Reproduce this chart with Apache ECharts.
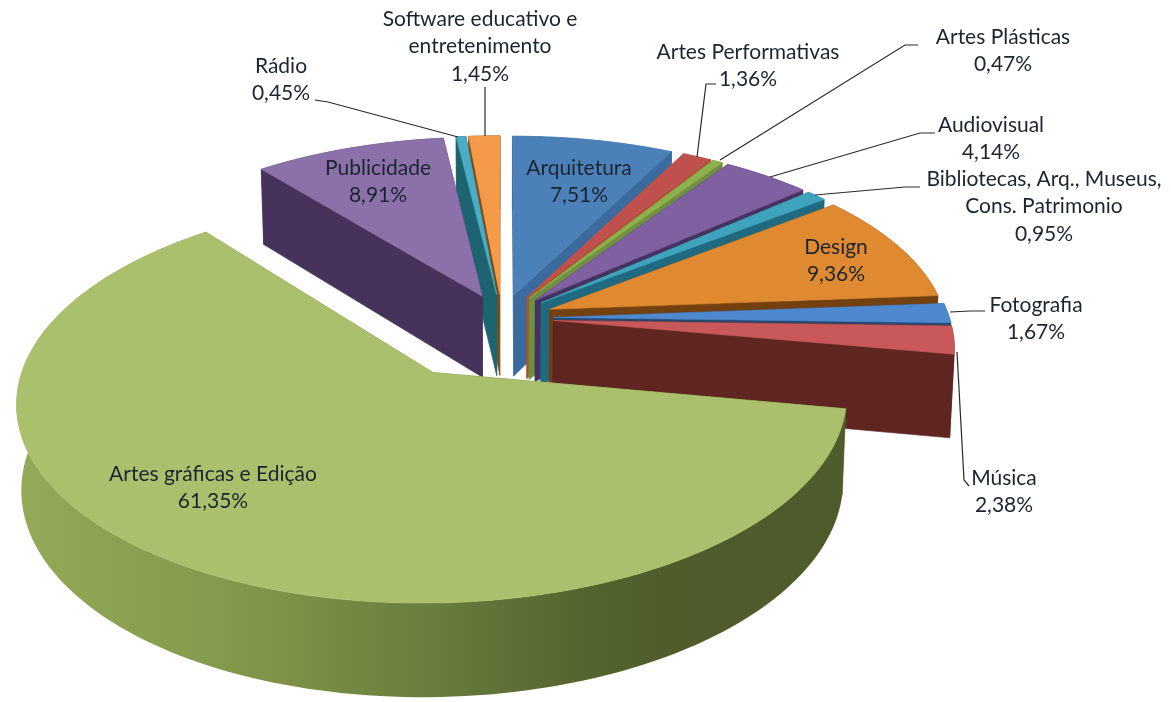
<!DOCTYPE html>
<html><head><meta charset="utf-8">
<style>html,body{margin:0;padding:0;background:#fff}#c{width:1171px;height:702px}</style>
<script src="https://cdn.jsdelivr.net/npm/echarts@6/dist/echarts.min.js"></script>
</head><body><div id="c"></div>
<script>
// ---- data (clockwise from 12 o'clock) ----
const categories = ['Arquitetura','Artes Performativas','Artes Plásticas','Audiovisual',
  'Bibliotecas, Arq., Museus,\nCons. Patrimonio','Design','Fotografia','Música',
  'Artes gráficas e Edição','Publicidade','Rádio','Software educativo e\nentretenimento'];
const values = [7.51,1.36,0.47,4.14,0.95,9.36,1.67,2.38,61.35,8.91,0.45,1.45];

// ---- styling / layout ----
const topColors  = ['#4c80b8','#c0504d','#8fb04e','#7f60a0','#3fa3bd','#df8a30','#4f88cc','#c8585a','#aac06c','#8b70aa','#4bacc6','#f59a48'];
const wallColors = ['#3a6a9e','#a8552c','#6f9040','#463260','#1f6a80','#74400f','#28476e','#5f2520','#6b8040','#46325a','#1d6470','#7f4a14'];
const drawOrder  = [11,10,9,0,1,2,3,4,5,6,7,8];
const CX = 502, CY = 318, A = 396, B = 185, P = 0.13;   // perspective projection of the pie plane
const DROP = 82, DROP_Q = 0.10, DROP_X = 0.99;          // thickness
const explodeBig = 0.33, explodeSmall = 0.13;

const total = values.reduce((a,b)=>a+b,0);
const starts = []; values.reduce((acc,v,i)=>{starts[i]=acc;return acc+v;},0);

function proj(U,V){const d=1-P*V;return {x:CX+A*U/d,y:CY+B*V/d,U:U,V:V};}
function lower(p){return [CX+(p.x-CX)*DROP_X, p.y+DROP/(1-DROP_Q*p.V)];}
const xy=p=>[p.x,p.y];

function renderSlice(params, api){
  const start = api.value(0), val = api.value(1), i = api.value(2);
  const th1 = start/total*2*Math.PI, th2 = (start+val)/total*2*Math.PI, mid=(th1+th2)/2;
  const e = i===8 ? explodeBig : explodeSmall;
  const u0 = e*Math.sin(mid), v0 = -e*Math.cos(mid);
  const n = Math.max(2,Math.ceil((th2-th1)/(Math.PI/120)));
  const rim=[];
  for(let k=0;k<=n;k++){const t=th1+(th2-th1)*k/n;rim.push(proj(u0+Math.sin(t),v0-Math.cos(t)));}
  const a=proj(u0,v0);
  const top=[xy(a)].concat(rim.map(xy));
  const rimWall=rim.map(xy).concat(rim.slice().reverse().map(lower));
  const wallFill = i===8 ? new echarts.graphic.LinearGradient(0,0,1,0,[
      {offset:0,color:'#93aa58'},{offset:0.25,color:'#84994b'},{offset:0.33,color:'#7d9047'},
      {offset:0.49,color:'#6a7f3f'},{offset:0.68,color:'#55652f'},{offset:0.78,color:'#4e5d2a'},{offset:1,color:'#4d5c2a'}]) : wallColors[i];
  const mk=(pts,fill)=>({type:'polygon',shape:{points:pts},style:{fill:fill,stroke:typeof fill==='string'?fill:null,lineWidth:0.6}});
  return {type:'group',children:[
    mk([xy(a),lower(a),lower(rim[0]),xy(rim[0])],wallColors[i]),
    mk([xy(a),lower(a),lower(rim[n]),xy(rim[n])],wallColors[i]),
    mk(rimWall,wallFill),
    mk(top,topColors[i])
  ]};
}

// label anchors: [x, y of first line]
const labelPos = [[579,168],[748,52],[1003,37],[991,125],[1044,179],[836,247],[1036,305],[1004,478],[213,474],[378,168],[281,66],[480,19]];
const leaders = [null,
  [[716,84],[706,84],[697,157]],
  [[918,45],[905,45],[720,160]],
  [[935,133],[920,133],[770,177]],
  [[920,187],[905,187],[815,195]],
  null,
  [[985,311],[970,311],[950,312]],
  [[957,352],[964,480],[969,486]],
  null,null,
  [[315,100],[328,102],[458,137]],
  [[485,87],[485,136]]];

const fmt = v => v.toFixed(2).replace('.',',')+'%';
const graphics = [];
categories.forEach((c,i)=>{
  const [x,y]=labelPos[i];
  graphics.push({type:'text',z:10,x:x,y:y-14,style:{text:c+'\n'+fmt(values[i]),x:0,y:0,align:'center',verticalAlign:'top',
    fontFamily:'Lato',fontSize:21,lineHeight:27.5,fill:'#1b2530'}});
  if(leaders[i]) graphics.push({type:'polyline',z:9,shape:{points:leaders[i]},style:{stroke:'#2a2a2a',lineWidth:1.2,fill:null}});
});

const chart = echarts.init(document.getElementById('c'),null,{renderer:'canvas'});
chart.setOption({
  animation:false,
  backgroundColor:'#fff',
  series:[{type:'custom',coordinateSystem:'none',silent:true,renderItem:renderSlice,
    dimensions:['start','value','index'],encode:{},
    data:drawOrder.map(i=>({name:categories[i],value:[starts[i],values[i],i]}))}],
  graphic:graphics
});
</script></body></html>
